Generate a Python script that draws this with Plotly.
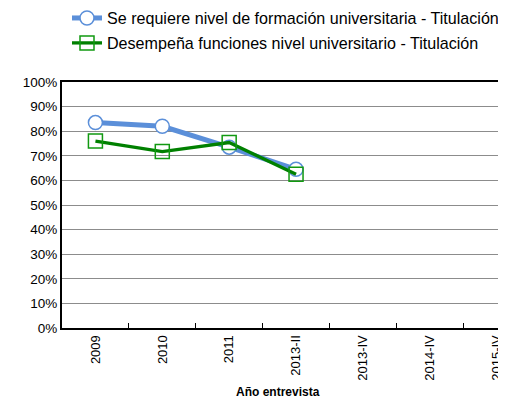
import plotly.graph_objects as go

categories = ["2009", "2010", "2011", "2013-II", "2013-IV", "2014-IV", "2015-IV"]
serie_requiere = [0.835, 0.82, 0.735, 0.645, None, None, None]
serie_desempena = [0.76, 0.717, 0.754, 0.625, None, None, None]
name_requiere = "Se requiere nivel de formación universitaria - Titulación"
name_desempena = "Desempeña funciones nivel universitario - Titulación"

# the page body adds an 8px offset, so the figure is 8px smaller
OFF = 8
W, H = 506 - OFF, 401 - OFF
L, R, T, B = 62 - OFF, 0, 82 - OFF, 73
PW, PH = W - L - R, H - T - B

fig = go.Figure()
fig.add_trace(go.Scatter(
    x=categories, y=serie_requiere, name=name_requiere, mode="lines+markers",
    line=dict(color="#5B8FD9", width=5),
    marker=dict(symbol="circle", size=14, color="white", line=dict(color="#5B8FD9", width=1.5)),
    legendgroup="a",
))
fig.add_trace(go.Scatter(
    x=categories, y=serie_desempena, name=name_desempena, mode="lines+markers",
    line=dict(color="#008000", width=3.3),
    marker=dict(symbol="square-open", size=14, color="#119911", line=dict(color="#119911", width=1.5)),
    legendgroup="b",
))

fig.update_layout(
    width=W, height=H,
    margin=dict(l=L, r=R, t=T, b=B, autoexpand=False),
    plot_bgcolor="white", paper_bgcolor="white",
    font=dict(family="Liberation Sans, Arial, sans-serif", size=13, color="black"),
    showlegend=True,
    legend=dict(
        x=5 / PW, xanchor="left", y=1.0 + (T + 7) / PH, yanchor="top",
        font=dict(size=16.1), traceorder="grouped", tracegroupgap=1,
        bgcolor="rgba(0,0,0,0)", itemwidth=30,
    ),
    xaxis=dict(
        type="category", categoryorder="array", categoryarray=categories,
        range=[-0.5, 6.14], automargin=False,
        tickangle=-90, tickson="boundaries", ticks="inside", ticklen=5,
        tickcolor="black", tickwidth=1, ticklabeloverflow="allow",
        showline=True, linecolor="black", linewidth=2, mirror=True,
        showgrid=False, tickfont=dict(size=13),
    ),
    yaxis=dict(
        range=[0, 1], dtick=0.1, tickformat=".0%", automargin=False,
        showline=True, linecolor="black", linewidth=2,
        showgrid=True, gridcolor="#8c8c8c", gridwidth=1,
        ticks="", tickfont=dict(size=13.5), zeroline=False,
    ),
)

fig.add_annotation(
    text="<b>Año entrevista</b>", xref="paper", yref="paper",
    x=(278 - 62) / PW, y=(328 - 392) / PH,
    xanchor="center", yanchor="middle", showarrow=False,
    font=dict(size=12, color="black"),
)

fig.write_html("out.html")
